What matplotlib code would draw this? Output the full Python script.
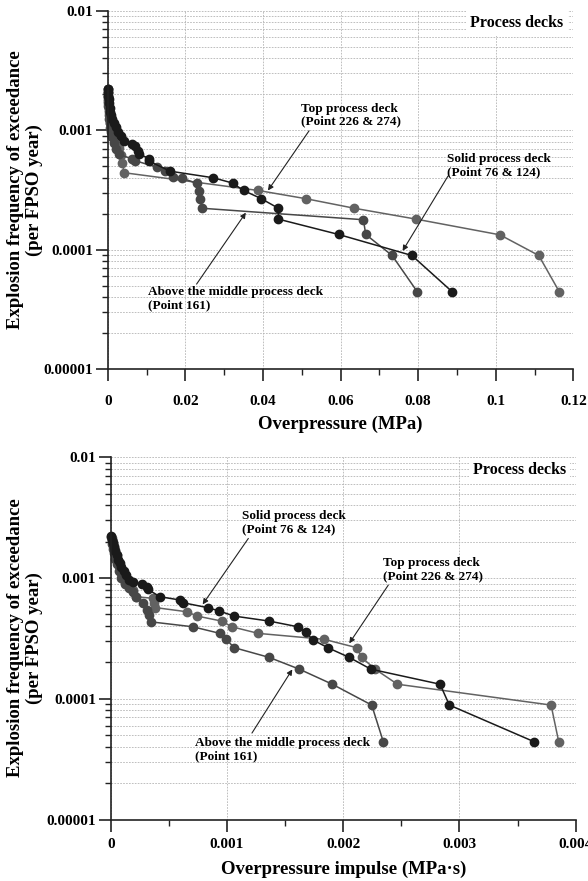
import matplotlib
matplotlib.use('Agg')
import matplotlib.pyplot as plt
from matplotlib.ticker import MultipleLocator, FixedLocator, FixedFormatter, FuncFormatter, LogLocator

plt.rcParams['font.family'] = ['Liberation Serif', 'DejaVu Serif']
plt.rcParams['font.weight'] = 'bold'

# ---- data: overpressure (MPa) vs exceedance frequency ----
op_solid_x = [0.0001, 0.0002, 0.0002, 0.0003, 0.0004, 0.0005, 0.0007, 0.0009, 0.0012, 0.0016,
              0.0021, 0.0027, 0.0034, 0.0042, 0.0062, 0.0070, 0.0079, 0.0081, 0.0107, 0.0107,
              0.0161, 0.0272, 0.0322, 0.0350, 0.0395, 0.0440, 0.0440, 0.0595, 0.0784, 0.0888]
op_solid_y = [2.22e-3, 2.08e-3, 1.95e-3, 1.82e-3, 1.68e-3, 1.55e-3, 1.42e-3, 1.33e-3, 1.24e-3, 1.15e-3,
              1.06e-3, 9.7e-4, 8.9e-4, 8.1e-4, 7.7e-4, 7.4e-4, 6.7e-4, 6.3e-4, 5.8e-4, 5.5e-4,
              4.54e-4, 4.0e-4, 3.61e-4, 3.13e-4, 2.68e-4, 2.22e-4, 1.80e-4, 1.34e-4, 8.93e-5, 4.43e-5]

op_top_x = [0.0000, 0.0001, 0.0001, 0.0002, 0.0002, 0.0003, 0.0004, 0.0005, 0.0006, 0.0007,
            0.0008, 0.0010, 0.0015, 0.0024, 0.0030, 0.0034, 0.0038, 0.0042, 0.0388, 0.0511,
            0.0636, 0.0795, 0.1011, 0.1111, 0.1164]
op_top_y = [2.22e-3, 2.08e-3, 1.95e-3, 1.82e-3, 1.68e-3, 1.55e-3, 1.42e-3, 1.33e-3, 1.24e-3, 1.15e-3,
            1.06e-3, 9.7e-4, 8.9e-4, 8.0e-4, 7.1e-4, 6.2e-4, 5.3e-4, 4.41e-4, 3.13e-4, 2.67e-4,
            2.22e-4, 1.80e-4, 1.33e-4, 8.93e-5, 4.43e-5]

op_mid_x = [0.0000, 0.0000, 0.0001, 0.0001, 0.0002, 0.0003, 0.0003, 0.0004, 0.0005, 0.0006,
            0.0008, 0.0011, 0.0015, 0.0021, 0.0028, 0.0062, 0.0070, 0.0126, 0.0148, 0.0169,
            0.0191, 0.0229, 0.0234, 0.0238, 0.0244, 0.0659, 0.0665, 0.0733, 0.0798]
op_mid_y = [2.2e-3, 2.05e-3, 1.9e-3, 1.75e-3, 1.6e-3, 1.47e-3, 1.35e-3, 1.25e-3, 1.15e-3, 1.05e-3,
            9.6e-4, 8.7e-4, 7.8e-4, 7.0e-4, 6.3e-4, 5.77e-4, 5.57e-4, 4.91e-4, 4.54e-4, 4.05e-4,
            3.98e-4, 3.59e-4, 3.10e-4, 2.67e-4, 2.22e-4, 1.78e-4, 1.34e-4, 8.93e-5, 4.43e-5]

# ---- data: overpressure impulse (MPa.s) vs exceedance frequency ----
imp_solid_x = [0.00000, 0.00001, 0.00002, 0.00003, 0.00004, 0.00005, 0.00006, 0.00008, 0.00009, 0.00011,
               0.00013, 0.00016, 0.000195, 0.000267, 0.00031, 0.00032, 0.000424, 0.000596, 0.000625, 0.00084,
               0.000934, 0.001063, 0.001364, 0.001609, 0.001677, 0.001743, 0.001867, 0.002053, 0.002237, 0.002833,
               0.002913, 0.003644]
imp_solid_y = [2.22e-3, 2.08e-3, 1.95e-3, 1.82e-3, 1.68e-3, 1.55e-3, 1.42e-3, 1.33e-3, 1.24e-3, 1.15e-3,
               1.06e-3, 9.7e-4, 9.31e-4, 8.87e-4, 8.4e-4, 8.06e-4, 7.0e-4, 6.58e-4, 6.24e-4, 5.67e-4,
               5.33e-4, 4.84e-4, 4.40e-4, 3.95e-4, 3.55e-4, 3.06e-4, 2.65e-4, 2.20e-4, 1.76e-4, 1.32e-4,
               8.87e-5, 4.40e-5]

imp_top_x = [0.00001, 0.00002, 0.00003, 0.00004, 0.00005, 0.00006, 0.00007, 0.00009, 0.00011, 0.00016,
             0.00019, 0.00022, 0.00036, 0.00037, 0.00038, 0.000654, 0.000745, 0.000955, 0.001041, 0.00127,
             0.001835, 0.002116, 0.002159, 0.002274, 0.002466, 0.003788, 0.003854]
imp_top_y = [2.15e-3, 2.0e-3, 1.85e-3, 1.7e-3, 1.55e-3, 1.4e-3, 1.25e-3, 1.1e-3, 9.7e-4, 8.5e-4,
             8.0e-4, 7.0e-4, 6.8e-4, 6.2e-4, 5.7e-4, 5.26e-4, 4.84e-4, 4.40e-4, 3.95e-4, 3.48e-4,
             3.11e-4, 2.65e-4, 2.20e-4, 1.76e-4, 1.32e-4, 8.87e-5, 4.40e-5]

imp_mid_x = [0.00000, 0.00001, 0.00001, 0.00002, 0.00003, 0.00004, 0.00005, 0.00007, 0.00009, 0.00012,
             0.00016, 0.00019, 0.00022, 0.00028, 0.00031, 0.00033, 0.000344, 0.000705, 0.00094, 0.000992,
             0.001063, 0.001364, 0.001622, 0.001906, 0.002245, 0.002345]
imp_mid_y = [2.2e-3, 2.05e-3, 1.9e-3, 1.75e-3, 1.6e-3, 1.45e-3, 1.3e-3, 1.15e-3, 1.0e-3, 9.0e-4,
             8.2e-4, 7.7e-4, 7.0e-4, 6.2e-4, 5.4e-4, 4.9e-4, 4.34e-4, 3.95e-4, 3.48e-4, 3.11e-4,
             2.65e-4, 2.20e-4, 1.76e-4, 1.32e-4, 8.87e-5, 4.40e-5]

y_ticks = [1e-5, 1e-4, 1e-3, 1e-2]
y_labels = ['0.00001', '0.0001', '0.001', '0.01']

c_solid = '#1a1a1a'
c_mid = '#474747'
c_top = '#626262'

fig = plt.figure(figsize=(5.88, 8.81), dpi=100)
ax1 = fig.add_axes([0.1832, 0.5812, 0.7918, 0.4064])
ax2 = fig.add_axes([0.1883, 0.0698, 0.7908, 0.4111])


def style_axes(ax, xmax, xmajor, xminor, xfmt, xpad):
    ax.set_yscale('log')
    ax.set_ylim(1e-5, 1e-2)
    ax.set_xlim(0, xmax)
    ax.yaxis.set_major_locator(FixedLocator(y_ticks))
    ax.yaxis.set_major_formatter(FixedFormatter(y_labels))
    ax.yaxis.set_minor_locator(LogLocator(base=10, subs=range(2, 10)))
    ax.yaxis.set_minor_formatter(FuncFormatter(lambda v, p: ''))
    ax.xaxis.set_major_locator(MultipleLocator(xmajor))
    ax.xaxis.set_minor_locator(MultipleLocator(xminor))
    ax.xaxis.set_major_formatter(FuncFormatter(xfmt))
    ax.grid(which='both', axis='y', color='#b4b4b4', linestyle=(0, (2, 1.5)), linewidth=0.6)
    ax.grid(which='major', axis='x', color='#b4b4b4', linestyle=(0, (2, 1.5)), linewidth=0.6)
    ax.set_axisbelow(True)
    for s in ['top', 'right']:
        ax.spines[s].set_visible(False)
    for s in ['left', 'bottom']:
        ax.spines[s].set_linewidth(1.2)
        ax.spines[s].set_color('#222222')
    ax.tick_params(which='major', direction='out', length=8.5, width=1.2, color='#222222',
                   labelsize=11, pad=2)
    ax.tick_params(axis='x', which='major', pad=xpad)
    ax.tick_params(which='minor', direction='out', length=4, width=1.0, color='#222222')
    for lab in ax.get_xticklabels() + ax.get_yticklabels():
        lab.set_fontweight('bold')
    ax.text(0.979, 0.965, 'Process decks', transform=ax.transAxes, ha='right', va='center',
            fontsize=11.5, fontweight='bold',
            bbox=dict(facecolor='white', edgecolor='none', pad=3))


def fmt_op(v, p):
    return '0' if abs(v) < 1e-12 else ('%g' % round(v, 4))


def fmt_imp(v, p):
    return '0' if abs(v) < 1e-12 else ('%.3f' % v)


def draw(ax, x, y, color):
    ax.plot(x, y, '-', color=color, linewidth=1.1, marker='o', markersize=6,
            markerfacecolor=color, markeredgecolor=color, clip_on=False)


def note(ax, text, txy, tail, head):
    ax.text(txy[0], txy[1], text, ha='left', va='center', fontsize=9.5, fontweight='bold',
            linespacing=1.1)
    ax.annotate('', xy=head, xytext=tail,
                arrowprops=dict(arrowstyle='-|>', color='#222222', lw=0.8,
                                mutation_scale=8, shrinkA=0, shrinkB=0))


# top chart
style_axes(ax1, 0.12, 0.02, 0.01, fmt_op, 10)
draw(ax1, op_top_x, op_top_y, c_top)
draw(ax1, op_mid_x, op_mid_y, c_mid)
draw(ax1, op_solid_x, op_solid_y, c_solid)
ax1.set_xlabel('Overpressure (MPa)', fontsize=13.5, fontweight='bold', labelpad=6)
note(ax1, 'Top process deck\n(Point 226 & 274)', (0.0498, 1.34e-3), (0.0519, 9.9e-4), (0.0413, 3.13e-4))
note(ax1, 'Solid process deck\n(Point 76 & 124)', (0.0874, 5.07e-4), (0.0877, 4.13e-4), (0.0760, 9.75e-5))
note(ax1, 'Above the middle process deck\n(Point 161)', (0.0103, 3.87e-5), (0.0229, 5.14e-5), (0.0356, 2.04e-4))

# bottom chart
style_axes(ax2, 0.004, 0.001, 0.0005, fmt_imp, 5)
draw(ax2, imp_top_x, imp_top_y, c_top)
draw(ax2, imp_mid_x, imp_mid_y, c_mid)
draw(ax2, imp_solid_x, imp_solid_y, c_solid)
ax2.set_xlabel('Overpressure impulse (MPa\u00b7s)', fontsize=13.5, fontweight='bold', labelpad=7)
note(ax2, 'Solid process deck\n(Point 76 & 124)', (0.001127, 2.88e-3), (0.001184, 2.13e-3), (0.000791, 6.05e-4))
note(ax2, 'Top process deck\n(Point 226 & 274)', (0.00234, 1.18e-3), (0.002388, 8.75e-4), (0.002052, 2.88e-4))
note(ax2, 'Above the middle process deck\n(Point 161)', (0.000725, 3.79e-5), (0.001215, 5.2e-5), (0.001562, 1.75e-4))

ylab = 'Explosion frequency of exceedance\n(per FPSO year)'
fig.text(25 / 588, 1 - 190 / 881, ylab, rotation=90, ha='center', va='center',
         fontsize=13.5, fontweight='bold', multialignment='center', linespacing=1.15)
fig.text(25 / 588, 1 - 638 / 881, ylab, rotation=90, ha='center', va='center',
         fontsize=13.5, fontweight='bold', multialignment='center', linespacing=1.15)

fig.savefig('out.png', dpi=100)
